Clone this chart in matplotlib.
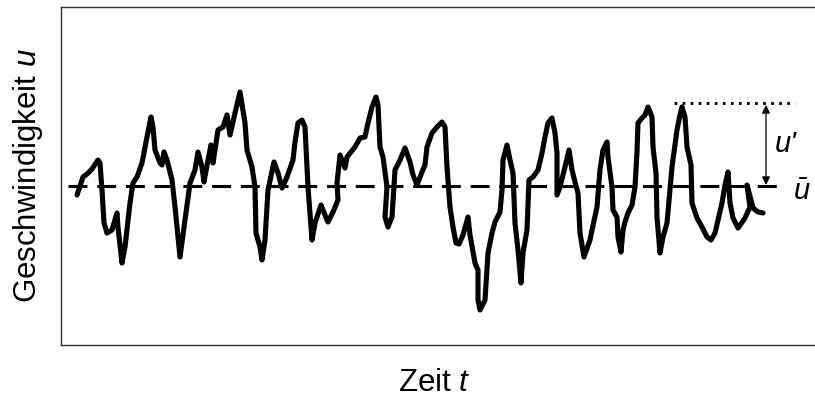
import matplotlib
matplotlib.use("Agg")
from matplotlib import pyplot as plt

plt.rcParams['font.family'] = ['Liberation Sans', 'DejaVu Sans']
plt.rcParams['mathtext.fontset'] = 'custom'
plt.rcParams['mathtext.rm'] = 'Liberation Sans'
plt.rcParams['mathtext.it'] = 'Liberation Sans:italic'

# signal: time t and velocity u (u = 0 is the mean)
t = [77, 80, 83, 87, 92, 98, 100, 102, 104, 107, 112, 117, 118, 122, 125, 130, 133, 137,
     142, 147, 151, 153, 155, 160, 162, 164, 167, 172, 175, 180, 185, 190, 195, 198, 202,
     204, 208, 211, 213, 218, 223, 227, 230, 235, 240, 245, 247, 252, 255, 256, 260, 262,
     265, 268, 274, 278, 282, 287, 293, 295, 298, 302, 305, 308, 312, 315, 321, 327, 328,
     333, 338, 337, 340, 345, 347, 355, 360, 365, 368, 372, 376, 378, 380, 383, 387, 385,
     388, 392, 395, 400, 405, 410, 413, 417, 422, 425, 427, 432, 437, 442, 445, 447, 450,
     453, 456, 459, 463, 468, 470, 475, 478, 478, 480, 485, 488, 492, 495, 500, 502, 503,
     507, 510, 513, 515, 518, 521, 523, 527, 529, 533, 538, 542, 545, 548, 552, 555, 557,
     557, 560, 565, 569, 572, 575, 578, 580, 584, 590, 592, 597, 600, 603, 607, 608, 612,
     613, 617, 618, 621, 623, 625, 628, 632, 635, 637, 638, 642, 645, 648, 652, 653, 656,
     657, 660, 663, 667, 670, 672, 677, 680, 682, 685, 687, 691, 692, 697, 702, 707, 711,
     715, 722, 725, 728, 730, 733, 738, 745, 750, 747, 751, 753, 758, 763]
u = [-9, 0, 9, 12, 17, 26, 23, -4, -37, -47, -44, -27, -41, -77, -61, -17, 3, 9,
     23, 49, 69, 59, 36, 23, 21, 34, 26, 6, -21, -71, -34, 3, 16, 34, 19,
     4, 26, 41, 23, 56, 59, 71, 51, 73, 94, 63, 36, 19, -1, -47, -61, -74,
     -54, -4, 24, 13, -2, 9, 26, 44, 63, 66, 59, -1, -54, -37, -19, -34, -36,
     -26, -14, 3, 31, 18, 29, 39, 48, 49, 63, 79, 89, 81, 39, 29, -1, -31,
     -41, -31, 16, 26, 38, 24, 11, 1, 14, 21, 39, 53, 59, 64, 59, 19, -21,
     -41, -57, -58, -49, -31, -49, -77, -84, -114, -124, -114, -67, -47, -36, -26, -4, 26,
     41, 26, 13, -37, -64, -97, -67, -44, 6, 9, 16, 33, 49, 63, 68, 53, 33,
     -9, -1, 19, 36, 16, 4, -7, -47, -71, -54, -44, -21, 16, 36, 44, 29, -1,
     -24, -31, -51, -66, -44, -36, -27, -19, -1, 34, 63, 68, 71, 79, 69, 39, 13,
     -31, -67, -51, -37, -4, 19, 56, 71, 79, 69, 39, 21, -17, -32, -41, -51, -54,
     -47, -17, 1, 14, -17, -32, -42, -32, -21, 1, -14, -22, -26, -27]

u_mean = 0
u_peak = 83          # level of the dotted line
mean_span = (68, 778)
peak_span = (674, 795)
arrow_t = 766

fig = plt.figure(figsize=(8.15, 4.01), dpi=100)
ax = fig.add_axes([61 / 815, 56 / 401, 754 / 815, 338 / 401])

ax.plot(mean_span, [u_mean, u_mean], color='black', lw=2.2, dashes=(6.2, 3.2))
ax.plot(peak_span, [u_peak, u_peak], color='black', lw=2.0, dashes=(1.0, 1.9))
ax.plot(t, u, color='black', lw=3.7, solid_joinstyle='round', solid_capstyle='round')

ax.annotate('', xy=(arrow_t, u_mean + 1), xytext=(arrow_t, u_peak - 2),
            arrowprops=dict(arrowstyle='<|-|>', color='black', lw=0.9,
                            mutation_scale=12, shrinkA=0, shrinkB=0))
ax.text(775, 42, "u'", fontsize=21, style='italic', ha='left', va='center')
ax.text(793, -6, r'$\bar{u}$', fontsize=21, ha='left', va='center')

ax.set_xlim(61, 815)
ax.set_ylim(-159, 179)
ax.set_xticks([])
ax.set_yticks([])
ax.spines['right'].set_visible(False)
for s in ['left', 'top', 'bottom']:
    ax.spines[s].set_linewidth(1.0)
    ax.spines[s].set_color('#333333')

fig.text(434 / 815, 1 - 383 / 401, 'Zeit $t$', fontsize=22.5, ha='center', va='center')
fig.text(28 / 815, 1 - 176 / 401, 'Geschwindigkeit $u$', fontsize=22.5,
         ha='center', va='center', rotation=90)

plt.savefig('out.png', dpi=100)
plt.close()
